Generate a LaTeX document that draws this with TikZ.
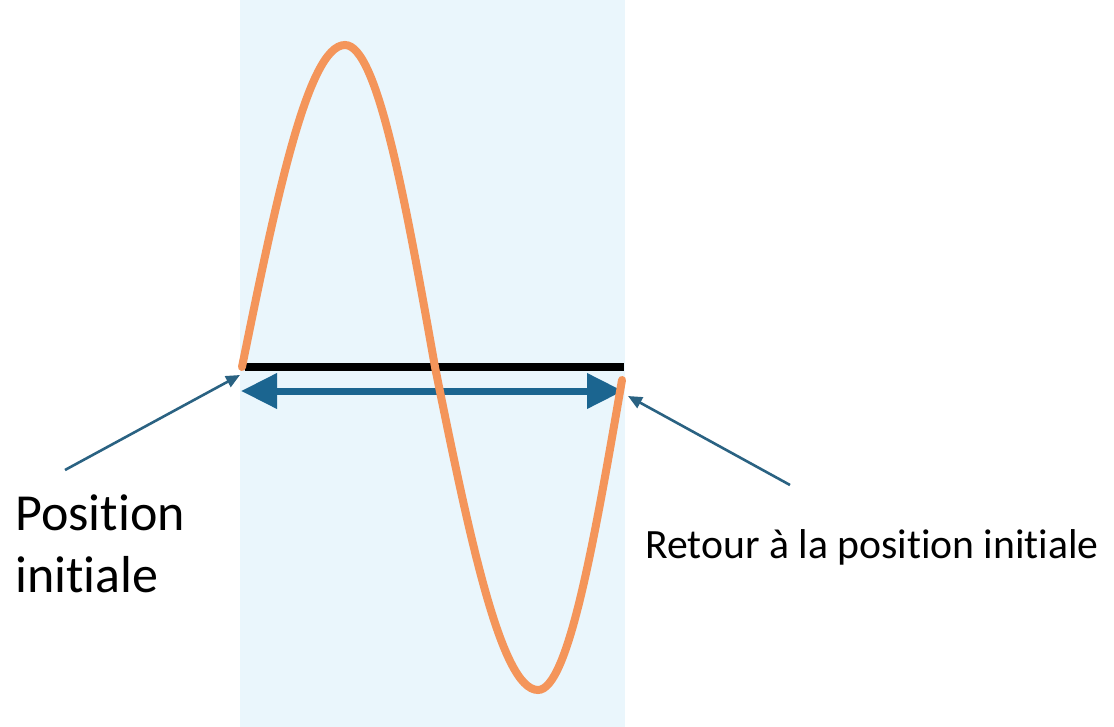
\documentclass[tikz,border=0pt]{standalone}
\usepackage{fontspec}
\setmainfont{Carlito}[Ligatures=NoCommon]
\usetikzlibrary{arrows.meta}
\definecolor{panel}{HTML}{EAF6FC}
\definecolor{wave}{HTML}{F4955A}
\definecolor{arrowblue}{HTML}{1B6590}
\definecolor{pointer}{HTML}{2A6282}
\begin{document}
\begin{tikzpicture}[x=1pt,y=-1pt,
  pointerline/.style={draw=pointer,line width=2.6pt,-{Triangle[length=14pt,width=12pt]}},
  label/.style={inner sep=0pt,anchor=base west,align=left}]
\useasboundingbox (0,0) rectangle (1114,727);
\fill[panel] (240,0) rectangle (625,727);
% black baseline
\coordinate (bl) at (245,367);
\coordinate (br) at (624,367);
\draw[black,line width=8pt] (bl) -- (br);
% double arrow
\coordinate (dl) at (241,391);
\coordinate (dr) at (623,391);
\draw[arrowblue,line width=7pt,{Triangle[length=36pt,width=34pt]}-{Triangle[length=36pt,width=34pt]}] (dl) -- (dr);
% wave
\draw[wave,line width=8pt,line cap=round] (242,367) sin (345,45) cos (435,367) sin (538,690) cos (622,380);
% labels
\node[label,font=\fontsize{52}{62}\selectfont] (pos) at (15,592) {Position\\initiale};
\node[label,font=\fontsize{41.7}{48}\selectfont] (ret) at (645,558) {Retour à la position initiale};
\coordinate (ps) at (65,470);
\coordinate (pe) at (240,375);
\coordinate (rs) at (790,485);
\coordinate (re) at (628,396);
\draw[pointerline] (ps) -- (pe);
\draw[pointerline] (rs) -- (re);
\end{tikzpicture}
\end{document}
